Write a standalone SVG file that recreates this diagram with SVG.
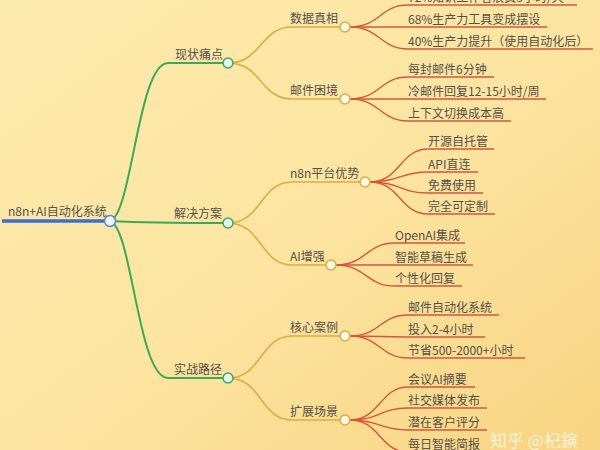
<svg xmlns="http://www.w3.org/2000/svg" width="600" height="450" viewBox="0 0 600 450">
<defs>
<linearGradient id="bg" x1="0" y1="0" x2="1" y2="1">
<stop offset="0" stop-color="#fdeaad"/>
<stop offset="0.5" stop-color="#fce5a2"/>
<stop offset="1" stop-color="#f8d482"/>
</linearGradient>
<style>
text{font-family:"Noto Sans CJK SC","Liberation Sans",sans-serif;fill:#55504a;font-size:12px}
.l1{stroke:#3aa95a;stroke-width:2;fill:none}
.l2{stroke:#e0ab3e;stroke-width:1.6;fill:none}
.l3{stroke:#d4573b;stroke-width:1.4;fill:none}
.c1{fill:#e6f7f3;stroke:#3aa95a;stroke-width:1.5}
.c2{fill:#fff9e6;stroke:#e0ab3e;stroke-width:1.5}
</style>
</defs>
<rect width="600" height="450" fill="url(#bg)"/>
<g id="connectors">
<path d="M2 221 H105" stroke="#3b6fd2" stroke-width="3.5" fill="none"/>
<path class="l1" d="M110 221 C132 215,138 63,168 63 H223"/>
<path class="l1" d="M110 221 C130 222,160 223,223 223"/>
<path class="l1" d="M110 221 C132 227,138 378,168 378 H223"/>
<path class="l2" d="M228 63 C262 63,260 27,292 27 H340"/>
<path class="l2" d="M228 63 C262 63,260 99,292 99 H340"/>
<path class="l2" d="M228 223 C262 223,260 182,292 182 H360"/>
<path class="l2" d="M228 223 C262 223,260 265,292 265 H326"/>
<path class="l2" d="M228 378 C262 378,260 336,292 336 H340"/>
<path class="l2" d="M228 378 C262 378,260 420,292 420 H340"/>
<path class="l3" d="M350 27 C380 27,380 5,408 5 H577"/>
<path class="l3" d="M350 27 H547"/>
<path class="l3" d="M350 27 C380 27,380 49,408 49 H593"/>
<path class="l3" d="M350 99 C380 99,380 77,408 77 H494"/>
<path class="l3" d="M350 99 H546"/>
<path class="l3" d="M350 99 C380 99,380 121,408 121 H511"/>
<path class="l3" d="M370 182 C400 182,400 149,428 149 H494"/>
<path class="l3" d="M370 182 C400 182,400 172,428 172 H478"/>
<path class="l3" d="M370 182 C400 182,400 193,428 193 H483"/>
<path class="l3" d="M370 182 C400 182,400 214,428 214 H495"/>
<path class="l3" d="M336 265 C366 265,366 243,395 243 H465"/>
<path class="l3" d="M336 265 H473"/>
<path class="l3" d="M336 265 C366 265,366 286,395 286 H462"/>
<path class="l3" d="M350 336 C380 336,380 315,408 315 H499"/>
<path class="l3" d="M350 336 C380 336,380 337,408 337 H485"/>
<path class="l3" d="M350 336 C380 336,380 358,408 358 H525"/>
<path class="l3" d="M350 420 C380 420,380 387,408 387 H475"/>
<path class="l3" d="M350 420 C380 420,380 408,408 408 H487"/>
<path class="l3" d="M350 420 C380 420,380 430,408 430 H487"/>
<path class="l3" d="M350 420 C380 420,380 452,408 452 H490"/>
</g>
<g id="root"><text x="8" y="216">n8n+AI自动化系统</text><circle cx="110" cy="221" r="5.5" fill="#eef4fb" stroke="#5f86c4" stroke-width="1.5"/></g>
<g id="n-xzttd"><text x="175" y="59">现状痛点</text><circle class="c1" cx="228" cy="63" r="5"/></g>
<g id="n-jjfa"><text x="174" y="218">解决方案</text><circle class="c1" cx="228" cy="223" r="5"/></g>
<g id="n-szlj"><text x="174" y="374">实战路径</text><circle class="c1" cx="228" cy="378" r="5"/></g>
<g id="n-sjzx"><text x="290" y="23">数据真相</text><circle class="c2" cx="345" cy="27" r="5"/></g>
<g id="n-yjkj"><text x="290" y="95">邮件困境</text><circle class="c2" cx="345" cy="99" r="5"/></g>
<g id="n-n8n"><text x="290" y="178">n8n平台优势</text><circle class="c2" cx="365" cy="182" r="5"/></g>
<g id="n-ai"><text x="290" y="261">AI增强</text><circle class="c2" cx="331" cy="265" r="5"/></g>
<g id="n-hxal"><text x="290" y="332">核心案例</text><circle class="c2" cx="345" cy="336" r="5"/></g>
<g id="n-kzcj"><text x="290" y="416">扩展场景</text><circle class="c2" cx="345" cy="420" r="5"/></g>
<g id="leaves">
<text x="408" y="2">72%知识工作者浪费3小时/天</text>
<text x="408" y="24">68%生产力工具变成摆设</text>
<text x="408" y="46">40%生产力提升（使用自动化后）</text>
<text x="408" y="74">每封邮件6分钟</text>
<text x="408" y="96">冷邮件回复12-15小时/周</text>
<text x="408" y="118">上下文切换成本高</text>
<text x="428" y="146">开源自托管</text>
<text x="428" y="169">API直连</text>
<text x="428" y="190">免费使用</text>
<text x="428" y="211">完全可定制</text>
<text x="395" y="240">OpenAI集成</text>
<text x="395" y="262">智能草稿生成</text>
<text x="395" y="283">个性化回复</text>
<text x="408" y="312">邮件自动化系统</text>
<text x="408" y="334">投入2-4小时</text>
<text x="408" y="355">节省500-2000+小时</text>
<text x="408" y="384">会议AI摘要</text>
<text x="408" y="405">社交媒体发布</text>
<text x="408" y="427">潜在客户评分</text>
<text x="408" y="449">每日智能简报</text>
</g>
<text x="490" y="447" style="font-size:17px;fill:#ffffff;fill-opacity:0.7">知乎 @杞鏔</text>
</svg>
